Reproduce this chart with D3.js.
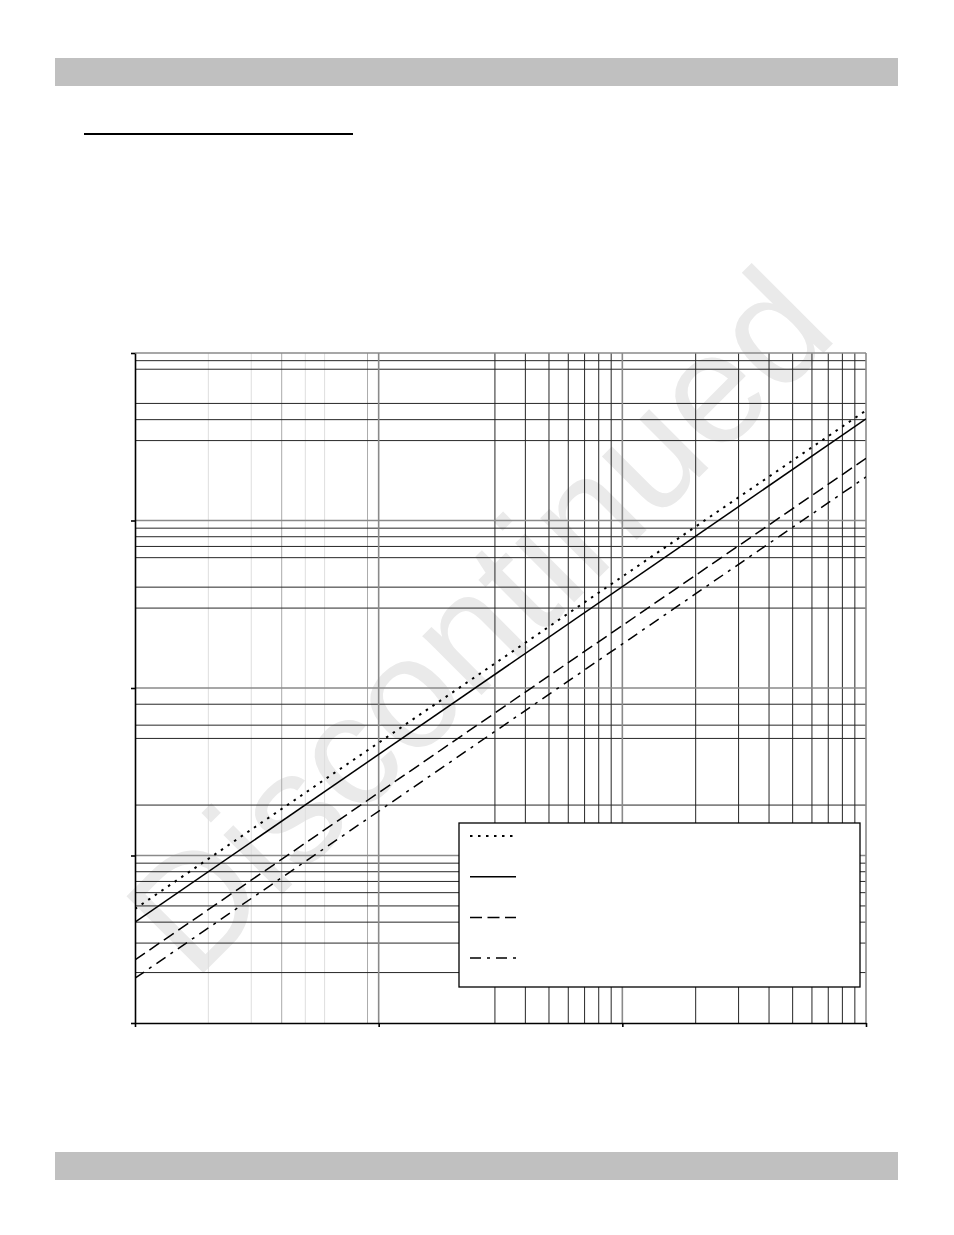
<!DOCTYPE html>
<html>
<head>
<meta charset="utf-8">
<script src="https://cdn.jsdelivr.net/npm/d3@7"></script>
<style>
    body { margin: 0; background: #fff; }
</style>
</head>
<body>
<div id="chart"></div>
<script>
// chart values
const seriesX = [1, 1000]
const dottedValues = [4.8, 4540]
const solidValues = [4.0, 4040]
const dashedValues = [2.38, 2350]
const dashDotValues = [1.85, 1820]
const seriesNames = ["dotted", "solid", "dashed", "dashdot"]

const xDecades = [1, 10, 100, 1000]
const yDecades = [1, 10, 100, 1000, 10000]
const xGridLight = [2, 3, 5, 6]
const xGridMid = [4, 9]
const xGridDark = [30, 40, 50, 60, 70, 80, 90, 200, 300, 400, 500, 600, 700, 800, 900]
const yGridDark = [2, 3, 4, 5, 6, 7, 8, 9, 20, 50, 60, 80, 300, 400, 600, 700, 800, 900, 3000, 4000, 5000, 8000, 9000]
const watermark = "Discontinued"

let width = 954
let height = 1235
let plot = {left: 135, right: 866, top: 353, bottom: 1023}

let svg = d3.select("#chart")
    .append("svg")
    .attr("width", width)
    .attr("height", height)

let xScale = d3.scaleLog()
    .domain([xDecades[0], xDecades[xDecades.length - 1]])
    .range([plot.left, plot.right])

let yScale = d3.scaleLog()
    .domain([yDecades[0], yDecades[yDecades.length - 1]])
    .range([plot.bottom, plot.top])

// page header / footer bars and the title underline
svg.append("rect")
    .attr("x", 55).attr("y", 58)
    .attr("width", 843).attr("height", 28)
    .attr("fill", "#c0c0c0")

svg.append("rect")
    .attr("x", 55).attr("y", 1152)
    .attr("width", 843).attr("height", 28)
    .attr("fill", "#c0c0c0")

svg.append("line")
    .attr("x1", 84).attr("x2", 353)
    .attr("y1", 134).attr("y2", 134)
    .attr("stroke", "#000")
    .attr("stroke-width", 2.2)

// watermark
svg.append("text")
    .attr("transform", "translate(477,619) rotate(-45)")
    .attr("text-anchor", "middle")
    .attr("dy", "0.36em")
    .style("font-family", "'Liberation Sans', Arial, sans-serif")
    .style("font-size", "158px")
    .attr("fill", "#eaeaea")
    .text(watermark)

// grid
let grid = svg.append("g")

function vLines(values, color, w) {
    grid.selectAll(null)
        .data(values)
        .enter()
        .append("line")
        .attr("x1", d => xScale(d)).attr("x2", d => xScale(d))
        .attr("y1", plot.top).attr("y2", plot.bottom)
        .attr("stroke", color)
        .attr("stroke-width", w)
}

function hLines(values, color, w) {
    grid.selectAll(null)
        .data(values)
        .enter()
        .append("line")
        .attr("x1", plot.left).attr("x2", plot.right)
        .attr("y1", d => yScale(d)).attr("y2", d => yScale(d))
        .attr("stroke", color)
        .attr("stroke-width", w)
}

vLines(xGridLight, "#dedede", 1)
vLines(xGridMid, "#ababab", 1)
vLines(xGridDark, "#262626", 1)
hLines(yGridDark, "#262626", 1)
vLines(xDecades.slice(1), "#8a8a8a", 1.6)
hLines(yDecades.slice(1), "#8a8a8a", 1.6)

// series
svg.append("clipPath")
    .attr("id", "plot-clip")
    .append("rect")
    .attr("x", plot.left).attr("y", plot.top)
    .attr("width", plot.right - plot.left)
    .attr("height", plot.bottom - plot.top)

let lineGen = d3.line()
    .x(d => xScale(d[0]))
    .y(d => yScale(d[1]))

let styles = {
    dotted: {dash: "2.5,5.5", w: 2},
    solid: {dash: null, w: 1.5},
    dashed: {dash: "12,5.5", w: 1.5},
    dashdot: {dash: "11,6,3,6", w: 1.5}
}

let allValues = [dottedValues, solidValues, dashedValues, dashDotValues]

allValues.forEach((vals, i) => {
    svg.append("path")
        .attr("d", lineGen(d3.zip(seriesX, vals)))
        .attr("clip-path", "url(#plot-clip)")
        .attr("fill", "none")
        .attr("stroke", "#000")
        .attr("stroke-width", styles[seriesNames[i]].w)
        .attr("stroke-dasharray", styles[seriesNames[i]].dash)
        .attr("id", "line-" + seriesNames[i])
})

// axes
svg.append("g")
    .attr("transform", "translate(" + plot.left + ",0)")
    .call(d3.axisLeft(yScale).tickValues(yDecades).tickFormat("").tickSize(4).tickSizeOuter(0))
    .call(g => g.selectAll("path, line").attr("stroke", "#000").attr("stroke-width", 1.6))

svg.append("g")
    .attr("transform", "translate(0," + plot.bottom + ")")
    .call(d3.axisBottom(xScale).tickValues(xDecades).tickFormat("").tickSize(4).tickSizeOuter(0))
    .call(g => g.selectAll("path, line").attr("stroke", "#000").attr("stroke-width", 1.6))

// legend (labels are blank in the reference)
let legend = svg.append("g")
    .attr("transform", "translate(459,823)")

legend.append("rect")
    .attr("width", 401)
    .attr("height", 164)
    .attr("fill", "#fff")
    .attr("stroke", "#000")
    .attr("stroke-width", 1.3)

seriesNames.forEach((name, i) => {
    legend.append("line")
        .attr("x1", 11).attr("x2", 57)
        .attr("y1", 13 + i * 40.7).attr("y2", 13 + i * 40.7)
        .attr("stroke", "#000")
        .attr("stroke-width", styles[name].w)
        .attr("stroke-dasharray", styles[name].dash)
})
</script>
</body>
</html>
